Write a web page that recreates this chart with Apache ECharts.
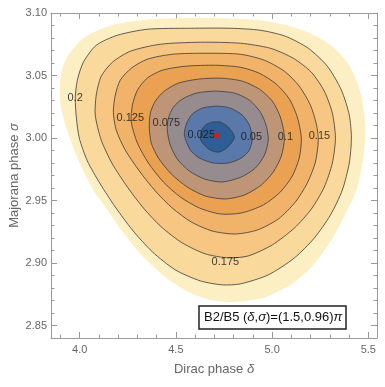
<!DOCTYPE html>
<html>
<head>
<meta charset="utf-8">
<script src="https://cdn.jsdelivr.net/npm/echarts@6/dist/echarts.min.js"></script>
<style>
html, body { margin: 0; padding: 0; background: #fff; }
#main { width: 385px; height: 387px; }
</style>
</head>
<body>
<div id="main"></div>
<script>
// contour levels, outermost region first
var levels = ['edge', '0.2', '0.175', '0.15', '0.125', '0.1', '0.075', '0.05', '0.025'];
var fills = ['#FDEFC4', '#FAD99C', '#F6C682', '#F1B369', '#EAA152', '#BE9677', '#968C90', '#5A78AA', '#2D5E96'];

// contour outlines (delta, sigma)
var cEdge = [[3.899,3.0463],[3.915,3.0582],[3.951,3.0686],[4.019,3.0798],[4.107,3.0870],[4.211,3.0918],[4.367,3.0950],[4.523,3.0958],[4.731,3.0958],[4.939,3.0942],[5.095,3.0894],[5.209,3.0830],[5.318,3.0726],[5.407,3.0566],[5.459,3.0359],[5.485,3.0087],[5.474,2.9848],[5.443,2.9608],[5.386,2.9408],[5.318,2.9209],[5.214,2.8985],[5.095,2.8825],[4.949,2.8721],[4.798,2.8689],[4.679,2.8705],[4.565,2.8769],[4.445,2.8889],[4.331,2.9049],[4.227,2.9240],[4.144,2.9424],[4.071,2.9584],[3.993,2.9824],[3.931,3.0079],[3.899,3.0279]];
var c200 = [[3.977,3.0319],[3.988,3.0463],[4.019,3.0606],[4.086,3.0742],[4.196,3.0822],[4.351,3.0870],[4.575,3.0878],[4.783,3.0878],[4.939,3.0862],[5.069,3.0814],[5.188,3.0718],[5.287,3.0574],[5.360,3.0383],[5.401,3.0183],[5.412,2.9999],[5.401,2.9800],[5.365,2.9584],[5.303,2.9384],[5.220,2.9201],[5.116,2.9041],[4.980,2.8905],[4.835,2.8833],[4.741,2.8825],[4.627,2.8857],[4.497,2.8945],[4.378,2.9089],[4.274,2.9264],[4.185,2.9448],[4.107,2.9632],[4.040,2.9816],[3.998,2.9999],[3.983,3.0159]];
var c175 = [[4.081,3.0183],[4.086,3.0343],[4.112,3.0494],[4.170,3.0606],[4.263,3.0694],[4.419,3.0750],[4.627,3.0766],[4.835,3.0758],[4.991,3.0718],[5.110,3.0638],[5.204,3.0526],[5.271,3.0375],[5.313,3.0199],[5.329,2.9999],[5.313,2.9800],[5.271,2.9608],[5.204,2.9432],[5.116,2.9280],[5.001,2.9145],[4.877,2.9057],[4.773,2.9041],[4.653,2.9073],[4.533,2.9161],[4.424,2.9289],[4.331,2.9440],[4.248,2.9608],[4.170,2.9792],[4.112,2.9983]];
var c150 = [[4.175,3.0207],[4.185,3.0343],[4.211,3.0463],[4.268,3.0558],[4.351,3.0630],[4.481,3.0670],[4.653,3.0678],[4.835,3.0670],[4.960,3.0622],[5.064,3.0534],[5.141,3.0415],[5.199,3.0263],[5.230,3.0111],[5.240,2.9983],[5.225,2.9808],[5.183,2.9640],[5.121,2.9488],[5.032,2.9352],[4.923,2.9264],[4.809,2.9232],[4.689,2.9256],[4.580,2.9328],[4.481,2.9440],[4.393,2.9576],[4.310,2.9736],[4.237,2.9903],[4.190,3.0063]];
var c125 = [[4.268,3.0127],[4.274,3.0263],[4.300,3.0383],[4.351,3.0479],[4.429,3.0542],[4.549,3.0574],[4.705,3.0582],[4.835,3.0566],[4.934,3.0518],[5.022,3.0431],[5.090,3.0311],[5.131,3.0167],[5.152,2.9999],[5.141,2.9840],[5.105,2.9696],[5.043,2.9568],[4.954,2.9464],[4.840,2.9400],[4.731,2.9392],[4.622,2.9440],[4.523,2.9528],[4.435,2.9648],[4.357,2.9800],[4.300,2.9959]];
var c100 = [[4.362,3.0079],[4.367,3.0199],[4.393,3.0295],[4.440,3.0375],[4.513,3.0439],[4.617,3.0471],[4.731,3.0479],[4.845,3.0455],[4.934,3.0391],[5.001,3.0295],[5.043,3.0167],[5.064,3.0007],[5.048,2.9856],[5.006,2.9728],[4.944,2.9624],[4.856,2.9544],[4.757,2.9512],[4.653,2.9536],[4.559,2.9608],[4.476,2.9712],[4.409,2.9840],[4.372,2.9959]];
var c075 = [[4.455,3.0063],[4.461,3.0159],[4.487,3.0247],[4.533,3.0311],[4.606,3.0359],[4.705,3.0375],[4.804,3.0359],[4.882,3.0303],[4.939,3.0207],[4.970,3.0095],[4.980,2.9983],[4.960,2.9863],[4.913,2.9760],[4.840,2.9688],[4.741,2.9648],[4.648,2.9672],[4.570,2.9736],[4.507,2.9832],[4.471,2.9943]];
var c050 = [[4.544,3.0023],[4.554,3.0111],[4.585,3.0191],[4.637,3.0239],[4.710,3.0255],[4.783,3.0239],[4.845,3.0183],[4.882,3.0103],[4.897,2.9999],[4.882,2.9903],[4.840,2.9840],[4.773,2.9800],[4.695,2.9800],[4.622,2.9840],[4.575,2.9903]];
var c025 = [[4.632,3.0055],[4.653,3.0103],[4.689,3.0127],[4.731,3.0127],[4.767,3.0095],[4.793,3.0047],[4.804,3.0007],[4.788,2.9959],[4.757,2.9911],[4.721,2.9887],[4.679,2.9903],[4.648,2.9943],[4.627,2.9991]];
var contours = [cEdge, c200, c175, c150, c125, c100, c075, c050, c025];

// contour labels: delta, sigma, text
var contourLabels = [[3.977,3.0319,'0.2'],[4.263,3.0159,'0.125'],[4.450,3.0119,'0.075'],[4.632,3.0023,'0.025'],[4.892,3.0007,'0.05'],[5.069,3.0007,'0.1'],[5.246,3.0015,'0.15'],[4.757,2.9009,'0.175']];
var bestFit = [[4.712, 3.002]];

var xMajor = [4.0, 4.5, 5.0, 5.5];
var xMinor = [3.9, 4.1, 4.2, 4.3, 4.4, 4.6, 4.7, 4.8, 4.9, 5.1, 5.2, 5.3, 5.4];
var yMajor = [2.85, 2.90, 2.95, 3.00, 3.05, 3.10];
var yMinor = [2.84, 2.86, 2.87, 2.88, 2.89, 2.91, 2.92, 2.93, 2.94, 2.96, 2.97, 2.98, 2.99, 3.01, 3.02, 3.03, 3.04, 3.06, 3.07, 3.08, 3.09];

var frameColor = '#9a9a9a';
var font = 'Liberation Sans, Arial, sans-serif';

function xAxisOf(pos, ticks, len, major) {
	return {
		type: 'value', position: pos, min: 3.851, max: 5.545,
		axisLine: { show: major, onZero: false, lineStyle: { color: frameColor, width: 1 } },
		axisTick: { show: true, inside: true, length: len, customValues: ticks, lineStyle: { color: frameColor } },
		axisLabel: { show: major && pos === 'bottom', customValues: ticks, color: '#666', fontSize: 11, margin: 6,
			formatter: function (v) { return v.toFixed(1); } },
		splitLine: { show: false }
	};
}
function yAxisOf(pos, ticks, len, major) {
	return {
		type: 'value', position: pos, min: 2.84, max: 3.10,
		axisLine: { show: major, onZero: false, lineStyle: { color: frameColor, width: 1 } },
		axisTick: { show: true, inside: true, length: len, customValues: ticks, lineStyle: { color: frameColor } },
		axisLabel: { show: major && pos === 'left', customValues: ticks, color: '#666', fontSize: 11, margin: 4,
			formatter: function (v) { return v.toFixed(2); } },
		splitLine: { show: false }
	};
}

var xs = [xAxisOf('bottom', xMajor, 6, true), xAxisOf('bottom', xMinor, 3.5, false), xAxisOf('top', xMajor, 6, true), xAxisOf('top', xMinor, 3.5, false)];
var ys = [yAxisOf('left', yMajor, 6, true), yAxisOf('left', yMinor, 3.5, false), yAxisOf('right', yMajor, 6, true), yAxisOf('right', yMinor, 3.5, false)];
xs[0].name = 'Dirac phase {i|δ}';
xs[0].nameLocation = 'middle';
xs[0].nameGap = 25;
xs[0].nameMoveOverlap = false;
xs[0].nameTextStyle = { color: '#666', fontSize: 13, rich: { i: { fontStyle: 'italic', color: '#666', fontSize: 13 } } };
ys[0].name = 'Majorana phase {i|σ}';
ys[0].nameLocation = 'middle';
ys[0].nameGap = 30;
ys[0].nameMoveOverlap = false;
ys[0].nameTextStyle = { color: '#666', fontSize: 13, rich: { i: { fontStyle: 'italic', color: '#666', fontSize: 13 } } };

option = {
	animation: false,
	backgroundColor: '#fff',
	textStyle: { fontFamily: font },
	grid: { left: 51, right: 8, top: 13, bottom: 49, containLabel: false, outerBoundsMode: 'none' },
	title: {
		text: '{a|B2/B5 (}{i|δ}{a|,}{i|σ}{a|)=(1.5,0.96)}{i|π}',
		left: 199, top: 306,
		padding: [5, 4, 5, 5],
		backgroundColor: '#fff',
		borderColor: '#222',
		borderWidth: 1.5,
		textStyle: {
			fontWeight: 'normal',
			rich: {
				a: { fontSize: 13, color: '#111', fontFamily: font, fontWeight: 'normal' },
				i: { fontSize: 13, color: '#111', fontFamily: font, fontWeight: 'normal', fontStyle: 'italic' }
			}
		}
	},
	xAxis: xs,
	yAxis: ys,
	series: [{
		type: 'custom',
		clip: true,
		encode: { x: 0, y: 1 },
		data: contours.map(function (c, i) { return [4.7, 3.0, i]; }),
		renderItem: function (params, api) {
			var k = api.value(2);
			var pts = contours[k].map(function (p) { return api.coord(p); });
			return {
				type: 'polygon',
				shape: { points: pts, smooth: 0.25 },
				style: { fill: fills[k], stroke: k === 0 ? null : 'rgba(60,60,60,0.8)', lineWidth: 1 }
			};
		}
	}, {
		type: 'scatter',
		symbolSize: 0,
		data: contourLabels,
		label: {
			show: true, position: 'inside', color: '#111', fontSize: 11,
			formatter: function (p) { return p.value[2]; }
		},
		z: 5
	}, {
		type: 'scatter',
		symbol: 'circle',
		symbolSize: 6,
		itemStyle: { color: '#ee1111' },
		data: bestFit,
		z: 6
	}]
};

var myChart = echarts.init(document.getElementById('main'));
myChart.setOption(option);
</script>
</body>
</html>
